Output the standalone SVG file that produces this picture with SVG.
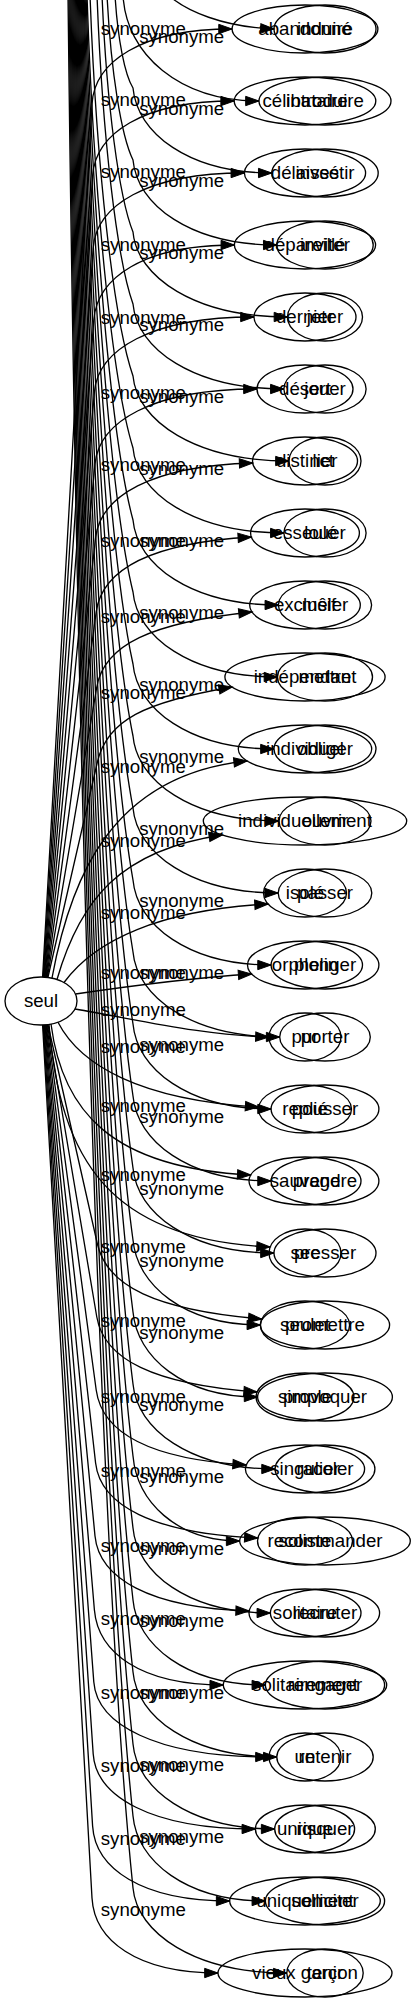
<svg xmlns="http://www.w3.org/2000/svg" width="411" height="2003" viewBox="0 0 411 2003">
<style>
.node ellipse{fill:none;stroke:#000;stroke-width:1.33}
text{font-family:"Liberation Sans",Arial,sans-serif;font-size:18.67px;text-anchor:middle;fill:#000}
#connectors path{fill:none;stroke:#000;stroke-width:1.33;marker-end:url(#arr)}
</style>
<defs>
<marker id="arr" markerUnits="userSpaceOnUse" markerWidth="16" markerHeight="12" refX="13.33" refY="0" orient="auto" viewBox="0 -6 16 12" overflow="visible">
<path d="M0,-4.67 L13.33,0 L0,4.67 z" fill="#000" stroke="#000" stroke-width="1"/>
</marker>
</defs>
<rect width="411" height="2003" fill="#fff"/>
<g id="connectors">
<path d="M42.6,977 L92,104 C94.4,62 141,29 232.1,29"/>
<path d="M43.2,977 L92.6,176 C95.2,134 142.2,101 234.2,101"/>
<path d="M43.8,977 L93.2,248 C96.1,206 146.1,173 244.4,173"/>
<path d="M44.4,977 L93.8,320 C97,278 143,245 234.4,245"/>
<path d="M45,977 L94.4,392 C98,350 150.3,317 254,317"/>
<path d="M45.6,977 L95,464 C99,422 151.7,389 257,389"/>
<path d="M46.2,977 L95.6,538 C100.3,496 150.6,466 252.7,463"/>
<path d="M46.8,977 L96.2,612 C101.9,570 150.5,543 251.4,537"/>
<path d="M47.4,977 L96.8,687 C104,645 151.2,622.5 252.1,612"/>
<path d="M48,977 L97.4,762 C107,720 144.6,702 232.2,687"/>
<path d="M52,978 C70,880 110,775 247.2,761"/>
<path d="M57,979.5 C80,900 120,850 222.4,835"/>
<path d="M64,982.5 C95,940 160,910 268.1,904"/>
<path d="M75.5,994 C130,986 190,978 251.7,974"/>
<path d="M75,1009 C140,1020 200,1035 269,1037"/>
<path d="M58,1022.2 C80,1065 140,1100 258.7,1107"/>
<path d="M51,1024 C62,1110 110,1168 250.8,1175"/>
<path d="M49,1024.4 C60,1160 110,1240 270.1,1247"/>
<path d="M48,1025 L97.4,1244 C106.9,1286 154.9,1310 261.8,1319"/>
<path d="M47.4,1025 L96.8,1317 C103.9,1359 152.9,1384.5 257.2,1392"/>
<path d="M46.8,1025 L96.2,1390 C101.9,1432 148.7,1459 246.2,1465"/>
<path d="M46.2,1025 L95.6,1463 C100.3,1505 152.4,1533.5 257.9,1538"/>
<path d="M45.6,1025 L95,1536 C99.1,1578 149,1608 249.2,1611"/>
<path d="M45,1025 L94.4,1610 C98,1652 139.5,1685 223.3,1685"/>
<path d="M44.4,1025 L93.8,1682 C97,1724 155.1,1757 269,1757"/>
<path d="M43.8,1025 L93.2,1754 C96.1,1796 150,1829 255.4,1829"/>
<path d="M43.2,1025 L92.6,1826 C95.2,1868 140.6,1901 229.7,1901"/>
<path d="M42.6,1025 L92,1898 C94.4,1940 136.1,1973 218,1973"/>
<path d="M165,-8 C185,12 225,27 274,29"/>
<path d="M123,-5 C126,55 180,101 259,101"/>
<path d="M115,-5 C117.7,39.6 124.9,74.8 133,88 C137,133 188.5,173 271.8,173"/>
<path d="M107,-5 C110.9,72 121.3,136 133,160 C137,205 190.5,245 276.8,245"/>
<path d="M102,-5 C106.65,104.4 119.05,197.2 133,232 C137,277 194.8,317 287.5,317"/>
<path d="M97,-5 C102.4,136.8 116.8,258.4 133,304 C137,349 193.4,389 283.9,389"/>
<path d="M90,-5 C96.45,169.2 113.65,319.6 133,376 C137,421 195.4,461 289,461"/>
<path d="M87,-5 C93.9,201.6 112.3,380.8 133,448 C137,493 193.4,533 283.9,533"/>
<path d="M86.05,-5 C93.09,234 111.87,442 133,520 C137,565 191.2,605 278.4,605"/>
<path d="M85.1,-5 C92.29,266.4 111.45,503.2 133,592 C137,637 190.8,677 277.5,677"/>
<path d="M84.15,-5 C91.48,298.8 111.02,564.4 133,664 C137,709 189.4,749 274,749"/>
<path d="M83.2,-5 C90.67,331.2 110.59,625.6 133,736 C137,781 191.4,821 279,821"/>
<path d="M82.25,-5 C89.86,363.6 110.16,686.8 133,808 C137,853 191.1,893 278.2,893"/>
<path d="M81.3,-5 C89.06,396 109.74,748 133,880 C137,925 188.2,965 271.1,965"/>
<path d="M80.35,-5 C88.25,428.4 109.31,809.2 133,952 C137,997 191.7,1037 279.7,1037"/>
<path d="M79.4,-5 C87.44,460.8 108.88,870.4 133,1024 C137,1069 188.2,1109 271.1,1109"/>
<path d="M78.45,-5 C86.63,493.2 108.45,931.6 133,1096 C137,1141 188.2,1181 271.1,1181"/>
<path d="M77.5,-5 C85.83,525.6 108.03,992.8 133,1168 C137,1213 189.4,1253 274,1253"/>
<path d="M76.55,-5 C85.02,558 107.6,1054 133,1240 C137,1285 184,1325 260.4,1325"/>
<path d="M75.6,-5 C84.21,590.4 107.17,1115.2 133,1312 C137,1357 182.8,1397 257.6,1397"/>
<path d="M74.65,-5 C83.4,622.8 106.74,1176.4 133,1384 C137,1429 189.8,1469 275.1,1469"/>
<path d="M73.7,-5 C82.6,655.2 106.32,1237.6 133,1456 C137,1501 175.7,1541 239.7,1541"/>
<path d="M72.75,-5 C81.79,687.6 105.89,1298.8 133,1528 C137,1573 188,1613 270.4,1613"/>
<path d="M71.8,-5 C80.98,720 105.46,1360 133,1600 C137,1645 186,1685 265.4,1685"/>
<path d="M70.85,-5 C80.17,752.4 105.03,1421.2 133,1672 C137,1717 190.5,1757 276.8,1757"/>
<path d="M69.9,-5 C79.37,784.8 104.61,1482.4 133,1744 C137,1789 189.7,1829 274.7,1829"/>
<path d="M68.95,-5 C78.56,817.2 104.18,1543.6 133,1816 C137,1861 186,1901 265.4,1901"/>
<path d="M68,-5 C77.75,849.6 103.75,1604.8 133,1888 C137,1933 194.5,1973 286.8,1973"/>
<g id="labels-a">
<text x="143.3" y="34.5">synonyme</text>
<text x="143.3" y="105.5">synonyme</text>
<text x="143.3" y="177.5">synonyme</text>
<text x="143.3" y="250.5">synonyme</text>
<text x="143.3" y="323.5">synonyme</text>
<text x="143.3" y="398.5">synonyme</text>
<text x="143.3" y="470.5">synonyme</text>
<text x="143.3" y="546.5">synonyme</text>
<text x="143.3" y="622.5">synonyme</text>
<text x="143.3" y="698.5">synonyme</text>
<text x="143.3" y="772.5">synonyme</text>
<text x="143.3" y="846.5">synonyme</text>
<text x="143.3" y="918.5">synonyme</text>
<text x="143.3" y="978.5">synonyme</text>
<text x="143.3" y="1015.5">synonyme</text>
<text x="143.3" y="1052.5">synonyme</text>
<text x="143.3" y="1111.5">synonyme</text>
<text x="143.3" y="1180.5">synonyme</text>
<text x="143.3" y="1252.5">synonyme</text>
<text x="143.3" y="1326.5">synonyme</text>
<text x="143.3" y="1402.5">synonyme</text>
<text x="143.3" y="1476.5">synonyme</text>
<text x="143.3" y="1551.5">synonyme</text>
<text x="143.3" y="1624.5">synonyme</text>
<text x="143.3" y="1698.5">synonyme</text>
<text x="143.3" y="1771.5">synonyme</text>
<text x="143.3" y="1844.5">synonyme</text>
<text x="143.3" y="1915.5">synonyme</text>
</g>
<g id="labels-b">
<text x="181.7" y="42.5">synonyme</text>
<text x="181.7" y="114.5">synonyme</text>
<text x="181.7" y="186.5">synonyme</text>
<text x="181.7" y="258.5">synonyme</text>
<text x="181.7" y="330.5">synonyme</text>
<text x="181.7" y="402.5">synonyme</text>
<text x="181.7" y="474.5">synonyme</text>
<text x="181.7" y="546.5">synonyme</text>
<text x="181.7" y="618.5">synonyme</text>
<text x="181.7" y="690.5">synonyme</text>
<text x="181.7" y="762.5">synonyme</text>
<text x="181.7" y="834.5">synonyme</text>
<text x="181.7" y="906.5">synonyme</text>
<text x="181.7" y="978.5">synonyme</text>
<text x="181.7" y="1050.5">synonyme</text>
<text x="181.7" y="1122.5">synonyme</text>
<text x="181.7" y="1194.5">synonyme</text>
<text x="181.7" y="1266.5">synonyme</text>
<text x="181.7" y="1338.5">synonyme</text>
<text x="181.7" y="1410.5">synonyme</text>
<text x="181.7" y="1482.5">synonyme</text>
<text x="181.7" y="1554.5">synonyme</text>
<text x="181.7" y="1626.5">synonyme</text>
<text x="181.7" y="1698.5">synonyme</text>
<text x="181.7" y="1770.5">synonyme</text>
<text x="181.7" y="1842.5">synonyme</text>
</g>
</g>
<g id="n-seul" class="node"><ellipse cx="41" cy="1001" rx="36" ry="24"/><text x="41" y="1006.5">seul</text></g>
<g id="a-abandonne" class="node"><ellipse cx="305" cy="29" rx="72.9" ry="24"/><text x="305" y="34.5">abandonné</text></g>
<g id="a-celibataire" class="node"><ellipse cx="305" cy="101" rx="70.8" ry="24"/><text x="305" y="106.5">célibataire</text></g>
<g id="a-delaisse" class="node"><ellipse cx="305" cy="173" rx="60.6" ry="24"/><text x="305" y="178.5">délaissé</text></g>
<g id="a-depareille" class="node"><ellipse cx="305" cy="245" rx="70.6" ry="24"/><text x="305" y="250.5">dépareillé</text></g>
<g id="a-dernier" class="node"><ellipse cx="305" cy="317" rx="51" ry="24"/><text x="305" y="322.5">dernier</text></g>
<g id="a-desert" class="node"><ellipse cx="305" cy="389" rx="48" ry="24"/><text x="305" y="394.5">désert</text></g>
<g id="a-distinct" class="node"><ellipse cx="305" cy="461" rx="52.5" ry="24"/><text x="305" y="466.5">distinct</text></g>
<g id="a-esseule" class="node"><ellipse cx="305" cy="533" rx="54.4" ry="24"/><text x="305" y="538.5">esseulé</text></g>
<g id="a-exclusif" class="node"><ellipse cx="305" cy="605" rx="55.3" ry="24"/><text x="305" y="610.5">exclusif</text></g>
<g id="a-independant" class="node"><ellipse cx="305" cy="677" rx="80.1" ry="24"/><text x="305" y="682.5">indépendant</text></g>
<g id="a-individuel" class="node"><ellipse cx="305" cy="749" rx="66.7" ry="24"/><text x="305" y="754.5">individuel</text></g>
<g id="a-individuellement" class="node"><ellipse cx="305" cy="821" rx="101.7" ry="24"/><text x="305" y="826.5">individuellement</text></g>
<g id="a-isole" class="node"><ellipse cx="305" cy="893" rx="41.5" ry="24"/><text x="305" y="898.5">isolé</text></g>
<g id="a-orphelin" class="node"><ellipse cx="305" cy="965" rx="57.5" ry="24"/><text x="305" y="970.5">orphelin</text></g>
<g id="a-pur" class="node"><ellipse cx="305" cy="1037" rx="36" ry="24"/><text x="305" y="1042.5">pur</text></g>
<g id="a-replie" class="node"><ellipse cx="305" cy="1109" rx="46.5" ry="24"/><text x="305" y="1114.5">replié</text></g>
<g id="a-sauvage" class="node"><ellipse cx="305" cy="1181" rx="56" ry="24"/><text x="305" y="1186.5">sauvage</text></g>
<g id="a-sec" class="node"><ellipse cx="305" cy="1253" rx="36" ry="24"/><text x="305" y="1258.5">sec</text></g>
<g id="a-seulet" class="node"><ellipse cx="305" cy="1325" rx="44.6" ry="24"/><text x="305" y="1330.5">seulet</text></g>
<g id="a-simple" class="node"><ellipse cx="305" cy="1397" rx="48.9" ry="24"/><text x="305" y="1402.5">simple</text></g>
<g id="a-singulier" class="node"><ellipse cx="305" cy="1469" rx="59.6" ry="24"/><text x="305" y="1474.5">singulier</text></g>
<g id="a-soliste" class="node"><ellipse cx="305" cy="1541" rx="47.5" ry="24"/><text x="305" y="1546.5">soliste</text></g>
<g id="a-solitaire" class="node"><ellipse cx="305" cy="1613" rx="56" ry="24"/><text x="305" y="1618.5">solitaire</text></g>
<g id="a-solitairement" class="node"><ellipse cx="305" cy="1685" rx="81.7" ry="24"/><text x="305" y="1690.5">solitairement</text></g>
<g id="a-un" class="node"><ellipse cx="305" cy="1757" rx="36" ry="24"/><text x="305" y="1762.5">un</text></g>
<g id="a-unique" class="node"><ellipse cx="305" cy="1829" rx="49.6" ry="24"/><text x="305" y="1834.5">unique</text></g>
<g id="a-uniquement" class="node"><ellipse cx="305" cy="1901" rx="75.3" ry="24"/><text x="305" y="1906.5">uniquement</text></g>
<g id="a-vieux-garcon" class="node"><ellipse cx="305" cy="1973" rx="87" ry="24"/><text x="305" y="1978.5">vieux garçon</text></g>
<g id="b-induire" class="node"><ellipse cx="325" cy="29" rx="51" ry="24"/><text x="325" y="34.5">induire</text></g>
<g id="b-introduire" class="node"><ellipse cx="325" cy="101" rx="66" ry="24"/><text x="325" y="106.5">introduire</text></g>
<g id="b-investir" class="node"><ellipse cx="325" cy="173" rx="53.2" ry="24"/><text x="325" y="178.5">investir</text></g>
<g id="b-inviter" class="node"><ellipse cx="325" cy="245" rx="48.2" ry="24"/><text x="325" y="250.5">inviter</text></g>
<g id="b-jeter" class="node"><ellipse cx="325" cy="317" rx="37.5" ry="24"/><text x="325" y="322.5">jeter</text></g>
<g id="b-jouer" class="node"><ellipse cx="325" cy="389" rx="41.1" ry="24"/><text x="325" y="394.5">jouer</text></g>
<g id="b-lier" class="node"><ellipse cx="325" cy="461" rx="36" ry="24"/><text x="325" y="466.5">lier</text></g>
<g id="b-louer" class="node"><ellipse cx="325" cy="533" rx="41.1" ry="24"/><text x="325" y="538.5">louer</text></g>
<g id="b-meler" class="node"><ellipse cx="325" cy="605" rx="46.6" ry="24"/><text x="325" y="610.5">mêler</text></g>
<g id="b-mettre" class="node"><ellipse cx="325" cy="677" rx="47.5" ry="24"/><text x="325" y="682.5">mettre</text></g>
<g id="b-obliger" class="node"><ellipse cx="325" cy="749" rx="51" ry="24"/><text x="325" y="754.5">obliger</text></g>
<g id="b-ouvrir" class="node"><ellipse cx="325" cy="821" rx="46" ry="24"/><text x="325" y="826.5">ouvrir</text></g>
<g id="b-passer" class="node"><ellipse cx="325" cy="893" rx="46.8" ry="24"/><text x="325" y="898.5">passer</text></g>
<g id="b-plonger" class="node"><ellipse cx="325" cy="965" rx="53.9" ry="24"/><text x="325" y="970.5">plonger</text></g>
<g id="b-porter" class="node"><ellipse cx="325" cy="1037" rx="45.3" ry="24"/><text x="325" y="1042.5">porter</text></g>
<g id="b-pousser" class="node"><ellipse cx="325" cy="1109" rx="53.9" ry="24"/><text x="325" y="1114.5">pousser</text></g>
<g id="b-prendre" class="node"><ellipse cx="325" cy="1181" rx="53.9" ry="24"/><text x="325" y="1186.5">prendre</text></g>
<g id="b-presser" class="node"><ellipse cx="325" cy="1253" rx="51" ry="24"/><text x="325" y="1258.5">presser</text></g>
<g id="b-promettre" class="node"><ellipse cx="325" cy="1325" rx="64.6" ry="24"/><text x="325" y="1330.5">promettre</text></g>
<g id="b-provoquer" class="node"><ellipse cx="325" cy="1397" rx="67.4" ry="24"/><text x="325" y="1402.5">provoquer</text></g>
<g id="b-racoler" class="node"><ellipse cx="325" cy="1469" rx="49.9" ry="24"/><text x="325" y="1474.5">racoler</text></g>
<g id="b-recommander" class="node"><ellipse cx="325" cy="1541" rx="85.3" ry="24"/><text x="325" y="1546.5">recommander</text></g>
<g id="b-recruter" class="node"><ellipse cx="325" cy="1613" rx="54.6" ry="24"/><text x="325" y="1618.5">recruter</text></g>
<g id="b-rengager" class="node"><ellipse cx="325" cy="1685" rx="59.6" ry="24"/><text x="325" y="1690.5">rengager</text></g>
<g id="b-retenir" class="node"><ellipse cx="325" cy="1757" rx="48.2" ry="24"/><text x="325" y="1762.5">retenir</text></g>
<g id="b-risquer" class="node"><ellipse cx="325" cy="1829" rx="50.3" ry="24"/><text x="325" y="1834.5">risquer</text></g>
<g id="b-solliciter" class="node"><ellipse cx="325" cy="1901" rx="59.6" ry="24"/><text x="325" y="1906.5">solliciter</text></g>
<g id="b-tenir" class="node"><ellipse cx="325" cy="1973" rx="38.2" ry="24"/><text x="325" y="1978.5">tenir</text></g>
</svg>
